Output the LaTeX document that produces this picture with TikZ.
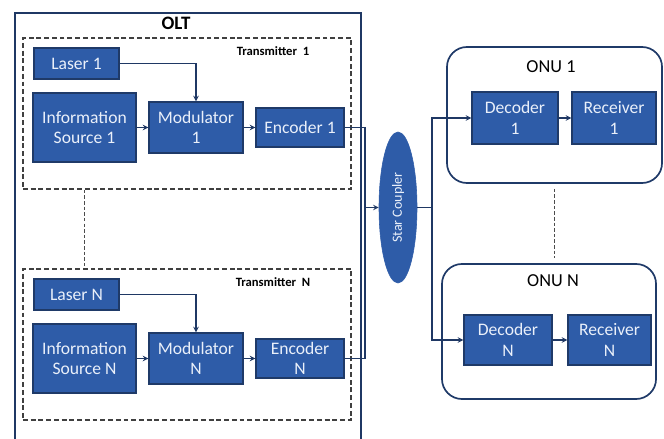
\documentclass[tikz,border=0pt]{standalone}
\usepackage{fontspec}
\setmainfont{Carlito}
\usetikzlibrary{shapes.geometric}

\definecolor{boxfill}{HTML}{2E5CA8}
\definecolor{boxline}{HTML}{1F3A68}
\definecolor{navy}{HTML}{1F3864}
\definecolor{boxtext}{HTML}{EAF0FA}

\tikzset{
    block/.style={draw=boxline,fill=boxfill,line width=0.9pt,text=boxtext,
        align=center,inner sep=1pt,font=\fontsize{12.5}{14.5}\selectfont},
    txframe/.style={draw=black!75,line width=1.1pt,dash pattern=on 3.5pt off 2pt},
    onuframe/.style={draw=boxline,line width=1.2pt,rounded corners=0.5cm},
    wire/.style={draw=navy,line width=0.8pt},
    linkdash/.style={draw=black!70,line width=1pt,dash pattern=on 2.5pt off 1.5pt},
}

\begin{document}
\begin{tikzpicture}[x=0.025cm,y=-0.025cm,>=stealth]
    \clip (0,0) rectangle (664,439);
    \fill[white] (0,0) rectangle (664,439);

    % OLT frame, cut by the lower edge
    \draw[navy,line width=1.2pt] (15,460) -- (15,13) -- (361,13) -- (361,460);
    \node[font=\bfseries\fontsize{13.5}{15}\selectfont] (olt) at (176,23) {OLT};

    \coordinate (join) at (365,207.5);
    \foreach \k/\dy/\enc in {1/0/{Encoder 1},N/231/{Encoder\\N}}{
        \node[txframe,minimum width=8.2cm,minimum height=3.775cm] (tx\k) at (187,113.5+\dy) {};
        \node[font=\bfseries\fontsize{9}{10}\selectfont] (txlab\k) at (273,51+\dy) {Transmitter\ \ \k};

        \node[block,minimum width=2.125cm,minimum height=0.775cm] (laser\k) at (76.5,63.5+\dy) {Laser \k};
        \node[block,minimum width=2.575cm,minimum height=1.725cm] (src\k) at (84.5,127.5+\dy) {Information\\Source \k};
        \node[block,minimum width=2.35cm,minimum height=1.275cm] (mod\k) at (196,127.5+\dy) {Modulator\\\k};
        \node[block,minimum width=2.2cm,minimum height=0.975cm] (enc\k) at (300,127.5+\dy) {\enc};

        \draw[wire,->] (laser\k) -| (mod\k);
        \draw[wire,->] (src\k) -- (mod\k);
        \draw[wire,->] (mod\k) -- (enc\k);
        \draw[wire] (enc\k) -| (join);
    }
    \draw[linkdash] (src1 |- tx1.south) -- (src1 |- txN.north);

    % star coupler
    \node[ellipse,fill=boxfill,draw=boxfill,rotate=90,minimum width=3.775cm,minimum height=0.95cm,
        inner sep=0pt,text=boxtext,font=\fontsize{10}{11}\selectfont] (coupler) at (398,207.5) {Star Coupler};
    \draw[wire,->] (join) -- (coupler);
    \coordinate (split) at (432,207.5);
    \draw[wire] (coupler) -- (split);

    % ONUs
    \node[onuframe,minimum width=5.375cm,minimum height=3.4cm] (onu1) at (554.5,115) {};
    \node[font=\fontsize{13}{15}\selectfont] (onulab1) at (551,67) {ONU 1};
    \node[block,minimum width=2.15cm,minimum height=1.3cm] (dec1) at (515,118) {Decoder\\1};
    \node[block,minimum width=2.1cm,minimum height=1.3cm] (rec1) at (614,118) {Receiver\\1};

    \node[onuframe,minimum width=5.35cm,minimum height=3.375cm] (onuN) at (549,331.5) {};
    \node[font=\fontsize{13}{15}\selectfont] (onulabN) at (553,281) {ONU N};
    \node[block,minimum width=2.2cm,minimum height=1.25cm] (decN) at (508,340) {Decoder\\N};
    \node[block,minimum width=2.075cm,minimum height=1.25cm] (recN) at (609.5,340) {Receiver\\N};

    \draw[wire,->] (split) |- (dec1);
    \draw[wire,->] (split) |- (decN);
    \draw[wire,->] (dec1) -- (rec1);
    \draw[wire,->] (decN) -- (recN);
    \draw[linkdash,shorten <=1.25mm,shorten >=1.25mm] (onu1.south) -- (onu1.south |- onuN.north);
\end{tikzpicture}
\end{document}
